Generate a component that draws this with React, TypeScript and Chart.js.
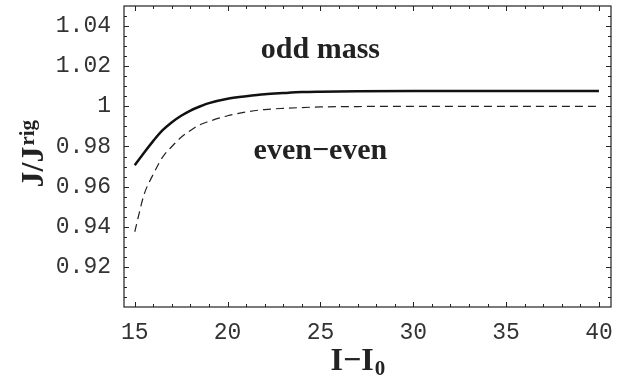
import React, { useEffect, useRef } from 'react';
import { Chart, registerables } from 'chart.js';

Chart.register(...registerables);

// ---- data ----
const xValues = [15, 15.5, 16, 16.5, 17, 17.5, 18, 18.5, 19, 20, 21, 22, 23, 24, 25, 27, 30, 35, 40];
const oddMass = [0.9707, 0.9769, 0.9828, 0.9881, 0.9921, 0.9953, 0.9979, 0.9999, 1.0016, 1.0038, 1.005, 1.006, 1.0066, 1.0071, 1.0073, 1.0075, 1.0076, 1.0076, 1.0076];
const evenEven = [0.9375, 0.956, 0.9662, 0.9747, 0.98, 0.9846, 0.988, 0.9908, 0.9925, 0.9953, 0.9972, 0.9984, 0.999, 0.9994, 0.9997, 0.9999, 1.0, 1.0, 1.0];
const xTickValues = [15, 20, 25, 30, 35, 40];
const yTickValues = [0.92, 0.94, 0.96, 0.98, 1.0, 1.02, 1.04];
const yTickLabels = ['0.92', '0.94', '0.96', '0.98', '1', '1.02', '1.04'];
const xMinorStep = 1;
const yMinorStep = 0.005;
const annotations = [
  { text: 'odd mass', x: 25, y: 1.0239 },
  { text: 'even\u2212even', x: 25, y: 0.974 },
];

const X_MIN = 14.42;
const X_MAX = 40.65;
const Y_MIN = 0.9;
const Y_MAX = 1.05;

const SERIF = "'Liberation Serif', 'Times New Roman', serif";
const MONO = "'Liberation Mono', 'Courier New', monospace";

const framePlugin = {
  id: 'frameAndText',
  afterDraw(chart: any) {
    const { ctx, chartArea: a, scales } = chart;
    const xs = scales.x;
    const ys = scales.y;
    ctx.save();
    ctx.strokeStyle = '#222';
    ctx.lineWidth = 1.2;
    ctx.strokeRect(a.left, a.top, a.right - a.left, a.bottom - a.top);
    ctx.lineWidth = 1;
    ctx.beginPath();
    for (let v = Math.ceil(X_MIN); v <= X_MAX; v += xMinorStep) {
      const major = xTickValues.includes(v);
      const len = major ? 5 : 3;
      const px = Math.round(xs.getPixelForValue(v)) + 0.5;
      ctx.moveTo(px, a.bottom);
      ctx.lineTo(px, a.bottom - len);
      ctx.moveTo(px, a.top);
      ctx.lineTo(px, a.top + len);
    }
    const nMinor = Math.round((Y_MAX - Y_MIN) / yMinorStep);
    for (let i = 1; i < nMinor; i++) {
      const v = Y_MIN + i * yMinorStep;
      const major = yTickValues.some((t) => Math.abs(t - v) < 1e-6);
      const len = major ? 5 : 3;
      const py = Math.round(ys.getPixelForValue(v)) + 0.5;
      ctx.moveTo(a.left, py);
      ctx.lineTo(a.left + len, py);
      ctx.moveTo(a.right, py);
      ctx.lineTo(a.right - len, py);
    }
    ctx.stroke();

    // annotations
    ctx.fillStyle = '#222';
    ctx.font = `bold 30px ${SERIF}`;
    ctx.textAlign = 'center';
    ctx.textBaseline = 'alphabetic';
    for (const an of annotations) {
      ctx.fillText(an.text, xs.getPixelForValue(an.x), ys.getPixelForValue(an.y));
    }

    // x axis title: I−I0
    ctx.textAlign = 'left';
    const cx = (a.left + a.right) / 2;
    let tx = cx - 37;
    const ty = a.bottom + 63;
    ctx.font = `bold 32px ${SERIF}`;
    const main = 'I\u2212I';
    ctx.fillText(main, tx, ty);
    tx += ctx.measureText(main).width;
    ctx.font = `bold 21px ${SERIF}`;
    ctx.fillText('0', tx + 1, ty + 5);

    // y axis title: J/J^rig
    const cy = (a.top + a.bottom) / 2;
    ctx.translate(a.left - 81, cy + 31);
    ctx.rotate(-Math.PI / 2);
    ctx.font = `bold 32px ${SERIF}`;
    const ym = 'J/J';
    ctx.fillText(ym, 0, 0);
    const w = ctx.measureText(ym).width;
    ctx.font = `bold 21px ${SERIF}`;
    ctx.fillText('rig', w + 1, -9);
    ctx.restore();
  },
};

export default function App() {
  const ref = useRef<HTMLCanvasElement | null>(null);
  useEffect(() => {
    if (!ref.current) return;
    const chart = new Chart(ref.current, {
      type: 'line',
      data: {
        datasets: [
          {
            label: 'odd mass',
            data: xValues.map((x, i) => ({ x, y: oddMass[i] })),
            borderColor: '#111',
            borderWidth: 2.5,
            pointRadius: 0,
            cubicInterpolationMode: 'monotone',
            fill: false,
          },
          {
            label: 'even-even',
            data: xValues.map((x, i) => ({ x, y: evenEven[i] })),
            borderColor: '#222',
            borderWidth: 1.2,
            borderDash: [8, 5],
            pointRadius: 0,
            cubicInterpolationMode: 'monotone',
            fill: false,
          },
        ],
      },
      options: {
        animation: false,
        responsive: true,
        maintainAspectRatio: false,
        layout: { padding: { left: 0, right: 12, top: 6, bottom: 0 } },
        plugins: {
          legend: { display: false },
          tooltip: { enabled: false },
        },
        scales: {
          x: {
            type: 'linear',
            min: X_MIN,
            max: X_MAX,
            grid: { display: false },
            border: { display: false },
            afterBuildTicks: (scale: any) => {
              scale.ticks = xTickValues.map((v) => ({ value: v }));
            },
            afterFit: (scale: any) => {
              scale.height = 69;
              scale.paddingLeft = 0;
              scale.paddingRight = 0;
            },
            ticks: {
              autoSkip: false,
              maxRotation: 0,
              padding: 4,
              color: '#333',
              font: { family: MONO, size: 23 },
              callback: (v: any) => String(v),
            },
          },
          y: {
            type: 'linear',
            min: Y_MIN,
            max: Y_MAX,
            grid: { display: false },
            border: { display: false },
            afterBuildTicks: (scale: any) => {
              scale.ticks = yTickValues.map((v) => ({ value: v }));
            },
            afterFit: (scale: any) => {
              scale.width = 124;
              scale.paddingTop = 0;
              scale.paddingBottom = 0;
            },
            ticks: {
              autoSkip: false,
              padding: 5,
              color: '#333',
              font: { family: MONO, size: 23 },
              callback: (v: any) => {
                const i = yTickValues.findIndex((t) => Math.abs(t - Number(v)) < 1e-6);
                return i >= 0 ? yTickLabels[i] : '';
              },
            },
          },
        },
      },
      plugins: [framePlugin],
    } as any);
    return () => chart.destroy();
  }, []);
  return (
    <div style={{ position: 'fixed', left: 0, top: 0, width: 623, height: 376, background: '#fff' }}>
      <canvas ref={ref} />
    </div>
  );
}
